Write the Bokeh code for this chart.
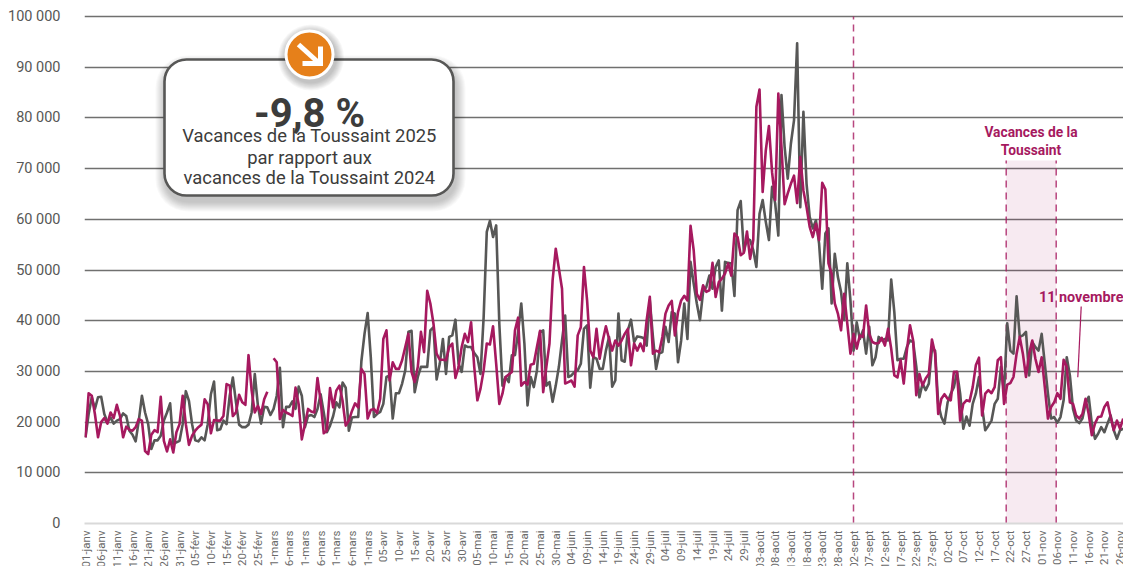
import math
import numpy as np
from bokeh.plotting import figure
from bokeh.embed import file_html
from bokeh.resources import INLINE
from bokeh.core.properties import value
from bokeh.models import BoxAnnotation, FixedTicker, Range1d

# Daily counts in thousands (leap-year calendar, 2025 has no 29 Feb)
NA = float("nan")
series_2025 = [
17,25.7,25.2,21.6,17,20,20.8,19.7,21.9,20.8,23.4,21.2,17,19.1,18.5,18.3,19,20.6,20.3,14.3,
13.7,17.5,18.4,18,25,16.3,14.2,16.6,14,18,19.6,25.2,19.6,15.5,17.3,18.3,19,19.5,24.5,23.5,
17.8,20.4,20.3,20.3,21.2,27.5,27.2,21.2,21.9,25.4,23.9,23.4,33.2,26.2,21.9,23.2,21.6,24.5,26,NA,
32.6,31.8,20.6,22.4,21.9,21.6,21.2,26.8,23.5,16.6,19.6,22.6,22.1,21.9,28.7,24.2,17.8,18.3,26.7,22.9,
26.2,27.2,24.2,19.3,20.3,22.2,23.7,22.9,30.5,29.5,20.7,22.4,22.6,21.8,24.6,36.4,38.1,28.2,31.8,30.5,
30.5,32.2,34.8,37.4,29.9,27.9,30.9,37.8,33.8,45.9,43.4,39.4,33.5,32.3,32.3,32.2,34.8,35.5,28.7,30.9,
34.8,37.4,35.8,39.7,30.9,24.3,26.6,30.2,35.5,35.3,38.9,31.5,23.6,25.6,28.9,29.4,29.9,38.1,40.6,27.2,
27.9,27.4,31.3,31.5,34.8,38,25.9,30.9,35.5,48,54.2,50.3,46.3,27.6,27.9,28.2,27,37.1,38.7,50.6,
44,34.1,32.8,38.4,32.5,36.1,38.9,36.4,34.1,36.1,35.1,36.1,37.4,38.4,31.2,35.5,34.1,35.5,34,40.1,
44.7,33.5,34.1,33.8,36.8,41.4,43,43.9,37.1,41.7,44,44.9,44,58.7,53.9,45.3,44.1,47,45.7,46,
51.4,44.7,47.6,48.3,49.3,51.3,48.9,57.2,56.5,52.9,53.4,57.6,52.2,55.9,82.2,85.6,65.4,73.6,78.4,69.3,
63.8,84.8,74.3,63,65.1,67,68.6,63.2,72.3,65.7,62.4,58.5,56.5,59.1,55.9,67.2,65.9,51.3,49.3,43.4,
41.4,38.1,45.3,39.4,33.5,37.4,34.5,37.1,36.8,43,37.4,35.8,35.5,35.6,36.6,35.1,38.4,34.5,29.2,28.8,
32.2,27.6,34.1,39.1,36.1,25.3,29.5,27.2,28.6,29.5,36.3,33.5,21.6,24.6,25.5,24.6,24.3,29.9,29.9,20.3,
23.6,24.3,24.1,26.9,31.2,32.7,21.3,25.6,26.3,25.7,26.9,32.2,32.8,23.6,27.4,27.7,28.9,33.5,36.8,33.5,
28.9,33.5,36.1,32.5,29.9,32.8,26.9,20.7,23,23.9,25.7,24.6,32.3,30.9,23.9,23.6,21.3,20.7,21.6,24.6,
21.6,17.4,19.7,21,21.1,23,23.9,21,18.4,20.3,18.7,20.7]

series_2024 = [
17,21.6,24.9,22.6,24.9,25,21.6,20,20.9,19.7,20.3,20.6,21.7,21.2,18.3,17.5,16.2,20.3,25.2,21.9,
19.6,14.7,16.4,16.4,17.3,20.3,21.9,23.7,15.7,16,16.3,19.6,26.1,24.2,19.6,16.4,16.2,17,16.4,19.6,
25.5,28,18.4,18.6,20.3,19.6,25.2,28.8,23.9,19.5,19,19,19.5,21.9,29.5,23.2,19.7,23,22.9,21.4,
22.6,25.2,30.7,19,23,23,24.1,22.6,27,25.2,19,21.2,21.4,21,22.6,25.5,21.9,18,19.3,21.2,
23.9,22.9,27.8,26.8,18.3,20.9,21,21,32,37.4,41.5,32.8,21,21.6,22,23.6,28.9,29.2,20.7,25.7,
25.7,27.6,30.2,37.8,38,25.9,28.9,30.9,30.9,30.9,38.1,38.7,28.4,31.5,36.4,29.5,36.8,37.1,40.2,31.5,
29.9,35.1,34.8,34.8,33.6,32.8,29.5,40.7,57.5,59.7,56.5,58.8,39.4,27.2,28.9,27.9,33.2,33.2,37.8,43.4,
35.5,23.3,28.9,26.9,30.2,37.8,38.1,27.2,27.9,24,27.2,30.9,36.1,41,28.9,29.2,29.9,30.2,31.5,38.4,
39.1,26.8,32.8,32.5,30.5,30.5,34.1,36.8,27,28.2,41.4,32.2,31.9,38.1,40.2,35.8,36.9,36.8,36.6,35.1,
44,36.8,30.5,33.5,33.8,38.8,35.8,41.7,41.4,31.8,36.1,43.4,36.4,51.6,47.3,43.4,40.1,45.7,46.6,48.9,
46.3,50.6,51.9,42,51.6,51.4,51.3,44.9,61.8,63.6,53.6,56.2,55.9,53.9,50.6,61.1,63.8,59.5,55.9,66.4,
63.1,56.8,84.5,74.3,68,74.9,79.5,94.7,62.4,81.2,67,60.5,58.2,59.8,55.2,46.3,57.2,58.2,43.4,53.2,
48.6,45.7,40.1,51.3,44,34.1,39.7,36.4,38.1,33.5,38.8,31.2,32.8,36.8,36.1,36.4,36.1,48.1,41.7,32.2,
32.5,32.5,34.8,36.1,35.8,31,24.9,27.6,26.3,27.6,34.5,34.1,23.6,21,19.7,23.9,25.6,26.9,29.9,25.6,
18.7,21.1,19.3,23.6,25.6,28.9,23,18.4,19.3,20.3,23.6,24.6,30.9,25.9,39.5,34.1,33.5,44.8,36.8,37.1,
37.8,29.2,35.8,34.8,34.1,37.4,31.5,25.6,20.7,21,19.9,21,24.3,32.8,29.2,22.6,20.3,19.8,20.7,23.6,
25,19.7,16.7,17.7,19,18,19.7,21.3,18.4,16.7,18.4,18.7]

tick_labels = [
"01-janv","06-janv","11-janv","16-janv","21-janv","26-janv","31-janv","05-févr","10-févr","15-févr","20-févr","25-févr",
"01-mars","06-mars","11-mars","16-mars","21-mars","26-mars","31-mars","05-avr","10-avr","15-avr","20-avr","25-avr","30-avr",
"05-mai","10-mai","15-mai","20-mai","25-mai","30-mai","04-juin","09-juin","14-juin","19-juin","24-juin","29-juin",
"04-juil","09-juil","14-juil","19-juil","24-juil","29-juil","03-août","08-août","13-août","18-août","23-août","28-août",
"02-sept","07-sept","12-sept","17-sept","22-sept","27-sept","02-oct","07-oct","12-oct","17-oct","22-oct","27-oct",
"01-nov","06-nov","11-nov","16-nov","21-nov","26-nov"]
y_ticks = [0,10000,20000,30000,40000,50000,60000,70000,80000,90000,100000]
y_labels = ["0","10 000","20 000","30 000","40 000","50 000","60 000","70 000","80 000","90 000","100 000"]

GRAY = "#575756"; MAG = "#a6195f"; TXT = "#3c3c3b"

# page-pixel helpers for the annotation furniture
def X(px): return (px - 85) / 3.135
def Y(py): return (523 - py) / 507 * 100000

p = figure(width=1110, height=558, frame_width=1039, frame_height=516,
           margin=(2, 0, -20, 5),
           x_range=Range1d(X(84), X(1123)), y_range=Range1d(0, Y(7)),
           output_backend="svg", toolbar_location=None, outline_line_color=None,
           background_fill_color="white", border_fill_color="white")

p.xgrid.visible = False
p.ygrid.ticker = FixedTicker(ticks=y_ticks[1:])
p.ygrid.grid_line_color = "#70706f"
p.ygrid.grid_line_width = 1.4

p.xaxis.ticker = FixedTicker(ticks=[i * 5 for i in range(len(tick_labels))])
p.xaxis.major_label_overrides = {i * 5: t for i, t in enumerate(tick_labels)}
p.xaxis.major_label_orientation = math.pi / 2
p.xaxis.major_label_text_font = "Roboto"
p.xaxis.major_label_text_font_size = "11.5px"
p.xaxis.major_label_text_color = "#6a6a6a"
p.xaxis.major_label_standoff = 7
p.xaxis.major_tick_in = 0
p.xaxis.major_tick_out = 0
p.xaxis.axis_line_color = "#d9d9d9"
p.xaxis.axis_line_width = 2
p.xaxis.major_tick_line_color = None
p.xaxis.minor_tick_line_color = None

p.yaxis.ticker = FixedTicker(ticks=y_ticks)
p.yaxis.major_label_overrides = dict(zip(y_ticks, y_labels))
p.yaxis.major_label_text_font = "Roboto"
p.yaxis.major_label_text_font_size = "14.5px"
p.yaxis.major_label_text_color = GRAY
p.yaxis.major_label_standoff = 24
p.yaxis.major_tick_in = 0
p.yaxis.major_tick_out = 0
p.yaxis.axis_line_color = None
p.yaxis.major_tick_line_color = None
p.yaxis.minor_tick_line_color = None

# holiday band and dashed markers
p.add_layout(BoxAnnotation(left=X(1005.7), right=X(1055.7), bottom=0, top=Y(160),
                           fill_color=MAG, fill_alpha=0.09, line_color=None, level="underlay"))
p.segment(x0=[X(853), X(1005.7), X(1055.7)], x1=[X(853), X(1005.7), X(1055.7)],
          y0=[0, 0, 0], y1=[Y(16), Y(160), Y(160)],
          line_color=MAG, line_alpha=0.8, line_width=1.5, line_dash="7 5")

days = np.arange(len(series_2024))
p.line(days, np.array(series_2024) * 1000, line_color=GRAY, line_width=2.6, line_join="round")
p.line(np.arange(len(series_2025)), np.array(series_2025) * 1000, line_color=MAG, line_width=2.6, line_join="round")

# callout box with soft shadow
for k in range(10, 0, -1):
    p.add_layout(BoxAnnotation(left=X(164 + 1 - k), right=X(453 + 2 + k), top=Y(59 + 6 - k), bottom=Y(195 + 6 + k),
                               fill_color="black", fill_alpha=0.025, line_color=None, border_radius=22 + k))
p.add_layout(BoxAnnotation(left=X(164), right=X(453), top=Y(59), bottom=Y(195),
                           fill_color="white", fill_alpha=1, line_color=GRAY, line_alpha=1, line_width=2.6,
                           border_radius=22))

# badge
for k in range(8, 0, -1):
    p.scatter([X(310.5)], [Y(57)], size=50 + 2 * k, marker="circle", fill_color="black", fill_alpha=0.03,
              line_color=None, level="overlay")
p.scatter([X(309)], [Y(54)], size=47, marker="circle", fill_color="#e6801a",
          line_color="white", line_width=3, level="overlay")
p.multi_line(xs=[[X(298), X(319)], [X(302), X(320), X(320)]], ys=[[Y(44), Y(63)], [Y(63), Y(63), Y(46)]],
             line_color="white", line_width=5, level="overlay", line_join="miter")

# texts
p.text([X(309)], [Y(113)], text=["-9,8 %"], text_font=value("Roboto"), text_font_style="bold",
       text_font_size="40px", text_color=TXT, text_align="center", text_baseline="alphabetic", level="overlay")
p.text([X(309)] * 3, [Y(135), Y(157), Y(177)],
       text=["Vacances de la Toussaint 2025", "par rapport aux", "vacances de la Toussaint 2024"],
       text_font=value("Roboto"), text_font_size="18.4px", text_color=TXT, text_align="center",
       text_baseline="alphabetic", level="overlay")
p.text([X(1030.5)] * 2, [Y(131.7), Y(149)], text=["Vacances de la", "Toussaint"],
       text_font=value("Roboto"), text_font_style="bold", text_font_size="13.8px", text_color=MAG,
       text_align="center", text_baseline="alphabetic")
p.text([X(1123)], [Y(297)], text=["11 novembre"], text_font=value("Roboto"), text_font_style="bold",
       text_font_size="14.4px", text_color=MAG, text_align="right", text_baseline="alphabetic")
p.line([X(1080.7), X(1077.3)], [Y(306), Y(376.7)], line_color=MAG, line_width=1.2)

open("out.html", "w").write(file_html(p, INLINE))
